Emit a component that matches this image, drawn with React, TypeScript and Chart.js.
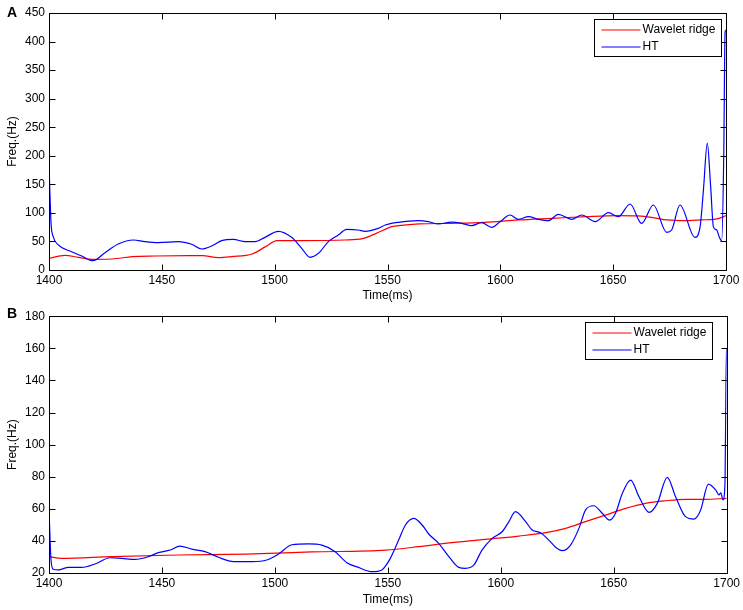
import React, { useEffect, useRef } from "react";
import { Chart, registerables } from "chart.js";

Chart.register(...registerables);

const FONT = "Arial, 'Liberation Sans', Helvetica, sans-serif";

// ---------- Panel A data ----------
const A_RIDGE_T = [1400, 1407, 1413, 1419, 1428, 1437, 1447, 1462, 1468, 1475, 1481, 1490, 1496, 1501, 1511, 1531, 1539, 1545, 1552, 1555, 1564, 1578, 1593, 1608, 1623, 1638, 1652, 1661, 1667, 1674, 1682, 1689, 1697, 1700];
const A_RIDGE_F = [20.4, 25.7, 22.2, 18.7, 19.3, 23.4, 24.5, 25.1, 25.1, 21.6, 23.4, 28, 40.9, 51.4, 51.4, 52.5, 54.9, 64.2, 75.9, 77.6, 80.6, 81.7, 83.5, 87.6, 90.5, 93.4, 95.2, 94.6, 92.2, 87.6, 86.4, 87.6, 90.5, 95.2];

const A_HT_T = [1400, 1400.4, 1400.9, 1401.9, 1404.1, 1410, 1414.5, 1419.5, 1424.8, 1430.7, 1437.4, 1442.5, 1448.4, 1457.3, 1463.2, 1467.7, 1472.1, 1476.5, 1481.7, 1486.9, 1491.3, 1495.7, 1501.6, 1507.5, 1512, 1515.7, 1519.4, 1523.8, 1528.2, 1531.9, 1537.1, 1540, 1545.9, 1549, 1554.8, 1563.7, 1568.1, 1572.5, 1578.4, 1582.9, 1587.3, 1591.7, 1596.2, 1599.9, 1604.3, 1608, 1612.4, 1616.9, 1621.3, 1625.7, 1631.6, 1636.1, 1642, 1647.9, 1652.3, 1657.5, 1662.6, 1667.8, 1673.7, 1675.9, 1679.6, 1686.2, 1688.5, 1690, 1691.7, 1693.2, 1694.4, 1695.9, 1697, 1698.1, 1699, 1699.6, 1700];
const A_HT_F = [183, 135, 82, 58, 44, 32, 24.5, 16.3, 30.4, 45.5, 52.5, 49.6, 47.9, 49.6, 45, 36.8, 42, 51.4, 53.7, 49.6, 49.6, 57.2, 67.7, 57.2, 37.9, 22.2, 29.2, 49.6, 61.3, 71.2, 70, 67.7, 73, 78.8, 83.5, 86.4, 84.6, 80.6, 84, 81.7, 77.6, 82.9, 74.7, 84.6, 96.3, 88.7, 93.4, 88.7, 86.4, 97.5, 88.7, 96.3, 84.6, 100.4, 93.4, 115.6, 81.7, 113.8, 66, 70, 113.8, 57.2, 75, 140, 222, 146, 76, 70, 58, 51, 200, 417, 420];

const A_Y_MIN = 0;
const A_Y_MAX = 450;
const A_Y_STEP = 50;

// ---------- Panel B data ----------
const B_RIDGE_T = [1400, 1405.6, 1427.8, 1457.3, 1486.9, 1516.4, 1549, 1563.7, 1578.4, 1593.2, 1608, 1620, 1628.7, 1637.5, 1646.4, 1655.3, 1664.1, 1673, 1681.8, 1690.7, 1700];
const B_RIDGE_F = [30.2, 29.1, 30.2, 31.2, 31.8, 33.1, 34.3, 36.4, 38.9, 41, 43, 45.1, 47.8, 52, 56.1, 60.3, 63.4, 65, 65.9, 65.9, 66.5];

const B_HT_T = [1400, 1400.9, 1401.9, 1404.1, 1408.6, 1414.5, 1420.4, 1427, 1432.2, 1438.1, 1444, 1448.4, 1453.6, 1458, 1463.2, 1469.1, 1475, 1481.7, 1489.8, 1496.4, 1501.6, 1507.5, 1514.9, 1520.8, 1526.7, 1531.9, 1537, 1543, 1547.4, 1549, 1551.1, 1554.8, 1557.8, 1561.5, 1565.2, 1568.1, 1572.5, 1577, 1581.4, 1584.4, 1588.1, 1591.7, 1596.2, 1600.6, 1603.6, 1606.5, 1611, 1613.9, 1617.6, 1621.3, 1624.3, 1627.2, 1630.9, 1634.6, 1637.5, 1641.2, 1644.9, 1648.2, 1650.8, 1653.8, 1657.5, 1661.2, 1665.6, 1669.3, 1673.7, 1677.4, 1681.8, 1685.6, 1688.5, 1691.9, 1695.2, 1696.6, 1697.4, 1698.4, 1699.3, 1699.7, 1700];
const B_HT_F = [59, 28.1, 22.3, 21.9, 23.5, 23.5, 25.6, 29.5, 29.1, 28.5, 30.2, 32.7, 34.3, 36.8, 34.9, 33.3, 29.8, 27.1, 27.1, 28.1, 31.8, 37.6, 38.1, 37.4, 33.3, 26.4, 23.5, 20.8, 21.9, 24.4, 29.1, 40.5, 49.9, 54, 49.9, 44.3, 38.5, 30.2, 23.5, 22.9, 25, 34.3, 41.6, 45.7, 52, 58.2, 52, 46.8, 45.1, 40.5, 36, 33.9, 37.4, 47.8, 59.2, 61.9, 57.2, 53, 57.2, 69.6, 77.9, 67.5, 57.8, 63.4, 79.6, 67.5, 55.1, 53.6, 59.2, 75.4, 71.7, 68.6, 70, 65.5, 77.9, 140, 160];

const B_Y_MIN = 20;
const B_Y_MAX = 180;
const B_Y_STEP = 20;

// ---------- shared ----------
const X_MIN = 1400;
const X_MAX = 1700;
const X_STEP = 50;
const SERIES_NAMES = ["Wavelet ridge", "HT"];
const SERIES_COLORS = ["#ff0000", "#0000ff"];
const X_TITLE = "Time(ms)";
const Y_TITLE = "Freq.(Hz)";

const toPoints = (t: number[], f: number[]) => t.map((x, i) => ({ x, y: f[i] }));

const matlabPlugin = {
  id: "matlabBox",
  afterDatasetsDraw(chart: any, _args: any, opts: any) {
    const { ctx, chartArea: a, scales } = chart;
    ctx.save();
    const L = Math.round(a.left) + 0.5;
    const R = Math.round(a.right) + 0.5;
    const T = Math.round(a.top) + 0.5;
    const B = Math.round(a.bottom) + 0.5;
    ctx.strokeStyle = "#000";
    ctx.lineWidth = 1;
    ctx.strokeRect(L, T, R - L, B - T);
    const TL = 6;
    ctx.beginPath();
    scales.x.ticks.forEach((t: any) => {
      const px = Math.round(scales.x.getPixelForValue(t.value)) + 0.5;
      ctx.moveTo(px, B);
      ctx.lineTo(px, B - TL);
      ctx.moveTo(px, T);
      ctx.lineTo(px, T + TL);
    });
    scales.y.ticks.forEach((t: any) => {
      const py = Math.round(scales.y.getPixelForValue(t.value)) + 0.5;
      ctx.moveTo(L, py);
      ctx.lineTo(L + TL, py);
      ctx.moveTo(R, py);
      ctx.lineTo(R - TL, py);
    });
    ctx.stroke();

    // legend box
    const ds = chart.data.datasets;
    ctx.font = `12px ${FONT}`;
    const tw = Math.max(...ds.map((d: any) => ctx.measureText(d.label).width));
    const w = Math.round(48 + tw + 6);
    const h = 37;
    const x0 = Math.round(a.right - opts.legendRight - w) + 0.5;
    const y0 = Math.round(a.top + opts.legendTop) + 0.5;
    ctx.fillStyle = "#fff";
    ctx.fillRect(x0, y0, w, h);
    ctx.strokeStyle = "#000";
    ctx.strokeRect(x0, y0, w, h);
    ds.forEach((d: any, i: number) => {
      const y = Math.round(y0 + 10 + i * 17);
      ctx.strokeStyle = d.borderColor;
      ctx.lineWidth = d.borderWidth;
      ctx.beginPath();
      ctx.moveTo(x0 + 7, y);
      ctx.lineTo(x0 + 46, y);
      ctx.stroke();
      ctx.fillStyle = "#000";
      ctx.textBaseline = "middle";
      ctx.textAlign = "left";
      ctx.fillText(d.label, x0 + 48, y);
    });

    // panel letter
    ctx.font = `bold 14px ${FONT}`;
    ctx.fillStyle = "#000";
    ctx.textBaseline = "alphabetic";
    ctx.textAlign = "left";
    ctx.fillText(opts.panel, 7, opts.panelY);
    ctx.restore();
  },
};

type PanelProps = {
  ridgeT: number[];
  ridgeF: number[];
  htT: number[];
  htF: number[];
  yMin: number;
  yMax: number;
  yStep: number;
  padTop: number;
  padRight: number;
  xHeight: number;
  legendRight: number;
  legendTop: number;
  panel: string;
  panelY: number;
  titleBottom: number;
};

function Panel(p: PanelProps) {
  const ref = useRef<HTMLCanvasElement | null>(null);
  useEffect(() => {
    if (!ref.current) return;
    const tickFont = { family: FONT, size: 12 };
    const chart = new Chart(ref.current, {
      type: "line",
      data: {
        datasets: [
          {
            label: SERIES_NAMES[0],
            data: toPoints(p.ridgeT, p.ridgeF),
            borderColor: SERIES_COLORS[0],
            borderWidth: 1.2,
            pointRadius: 0,
            cubicInterpolationMode: "monotone",
            order: 2,
          },
          {
            label: SERIES_NAMES[1],
            data: toPoints(p.htT, p.htF),
            borderColor: SERIES_COLORS[1],
            borderWidth: 1.2,
            pointRadius: 0,
            cubicInterpolationMode: "monotone",
            order: 1,
          },
        ],
      },
      options: {
        animation: false,
        responsive: false,
        devicePixelRatio: 1,
        layout: { autoPadding: false, padding: { top: p.padTop, right: p.padRight, left: 0, bottom: 0 } },
        plugins: {
          legend: { display: false },
          tooltip: { enabled: false },
          matlabBox: { legendRight: p.legendRight, legendTop: p.legendTop, panel: p.panel, panelY: p.panelY },
        } as any,
        scales: {
          x: {
            type: "linear",
            min: X_MIN,
            max: X_MAX,
            ticks: { stepSize: X_STEP, color: "#000", font: tickFont, padding: 3, maxRotation: 0, callback: (v: any) => String(v) },
            grid: { display: false, drawTicks: false },
            border: { display: false },
            title: { display: true, text: X_TITLE, color: "#000", font: tickFont, padding: { top: 0, bottom: p.titleBottom } },
            afterFit: (s: any) => {
              s.height = p.xHeight;
            },
          },
          y: {
            type: "linear",
            min: p.yMin,
            max: p.yMax,
            ticks: { stepSize: p.yStep, color: "#000", font: tickFont, padding: 4, callback: (v: any) => String(v) },
            grid: { display: false, drawTicks: false },
            border: { display: false },
            title: { display: true, text: Y_TITLE, color: "#000", font: tickFont, padding: { top: 5, bottom: 0 } },
            afterFit: (s: any) => {
              s.width = 49;
            },
          },
        },
      },
      plugins: [matlabPlugin],
    } as any);
    return () => chart.destroy();
  }, []);
  return <canvas ref={ref} width={743} height={305} style={{ display: "block", width: 743, height: 305 }} />;
}

export default function App() {
  return (
    <div style={{ position: "absolute", left: 0, top: 0, width: 743, height: 610, background: "#fff" }}>
      <Panel
        ridgeT={A_RIDGE_T}
        ridgeF={A_RIDGE_F}
        htT={A_HT_T}
        htF={A_HT_F}
        yMin={A_Y_MIN}
        yMax={A_Y_MAX}
        yStep={A_Y_STEP}
        padTop={13}
        padRight={17}
        xHeight={35}
        legendRight={5}
        legendTop={6}
        panel="A"
        panelY={17}
        titleBottom={2}
      />
      <Panel
        ridgeT={B_RIDGE_T}
        ridgeF={B_RIDGE_F}
        htT={B_HT_T}
        htF={B_HT_F}
        yMin={B_Y_MIN}
        yMax={B_Y_MAX}
        yStep={B_Y_STEP}
        padTop={11}
        padRight={16}
        xHeight={37}
        legendRight={15}
        legendTop={6}
        panel="B"
        panelY={13}
        titleBottom={3}
      />
    </div>
  );
}
